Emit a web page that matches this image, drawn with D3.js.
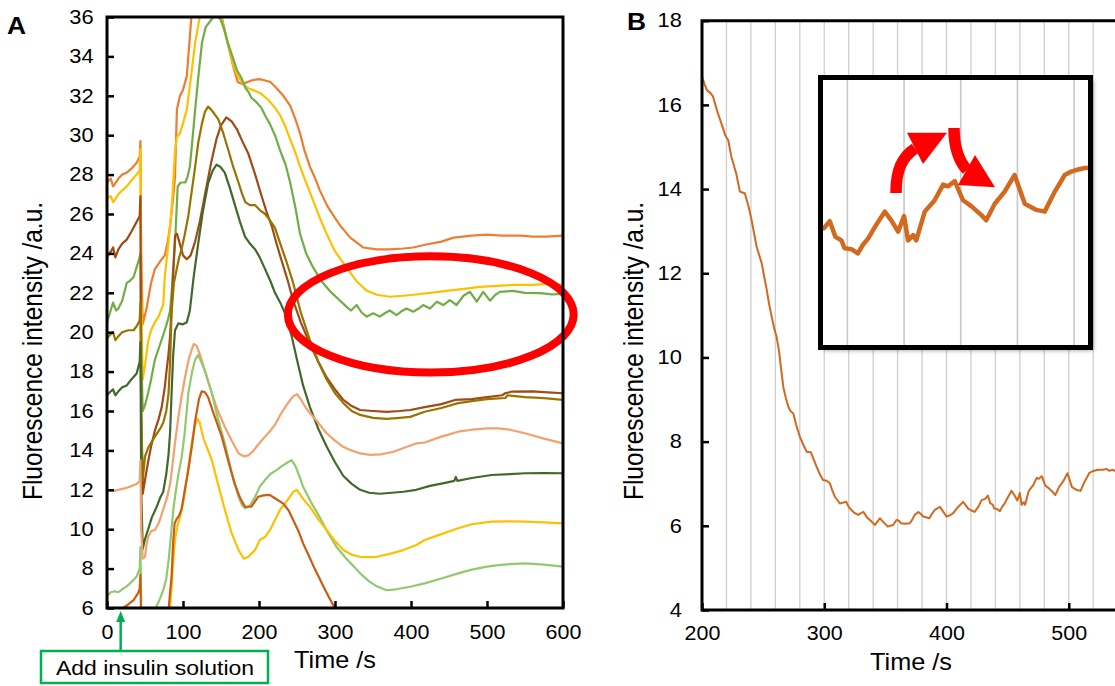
<!DOCTYPE html>
<html>
<head>
<meta charset="UTF-8" />
<script src="https://d3js.org/d3.v7.min.js"></script>
<style>
  body { margin: 0; background: #fff; }
  text { font-family: "Liberation Sans", Arial, sans-serif; fill: #000; }
</style>
</head>
<body>
<svg width="1115" height="686"></svg>
<script>
// ---- panel A data: [time (s), fluorescence (a.u.)] ----
var orangeA = [[0,27.6],[5,27.8],[8,27.4],[10,27.5],[15,27.8],[20,28.0],[26,28.1],[32,28.3],[39,28.6],[43,28.9],[44,29.7],[45,24.0],[47,20.4],[52,21.2],[58,22.5],[63,23.2],[70,23.6],[76,23.9],[80,24.6],[83,25.4],[87,26.8],[89.5,27.9],[91,30.0],[92,31.3],[96,32.0],[100,32.3],[105,33.0],[108,34.5],[111,36.0],[115,37.5],[125,39],[135,39],[145,37.5],[151,36.0],[158,34.8],[166,33.5],[172,32.7],[178,32.6],[185,32.7],[192,32.8],[200,32.85],[206,32.8],[215,32.7],[223,32.4],[232,32.0],[241,31.5],[248,30.8],[254,30.1],[260,29.2],[267,28.4],[274,27.8],[280,27.2],[290,26.4],[300,25.8],[307,25.4],[320,24.8],[337,24.3],[355,24.2],[372,24.2],[390,24.25],[403,24.3],[420,24.45],[440,24.6],[456,24.8],[480,24.9],[500,24.95],[520,24.9],[544,24.9],[560,24.85],[578,24.85],[600,24.9]];
var yellowA = [[0,26.8],[5,26.9],[8,26.6],[10,26.7],[15,27.0],[20,27.2],[26,27.4],[32,27.7],[39,28.0],[43,28.2],[44,29.3],[45,22.0],[47,17.6],[50,18.3],[54,19.5],[58,20.1],[63,20.5],[68,20.8],[74,21.4],[76,22.8],[80,24.2],[85,26.2],[89.5,29.2],[92,29.9],[96,30.1],[100,30.6],[105,31.3],[110,32.8],[116,34.7],[122,36.0],[130,37.2],[140,37.3],[148,36.4],[153,35.5],[160,34.5],[166,33.6],[172,33.0],[177,32.7],[185,32.4],[195,32.25],[203,32.1],[212,31.8],[221,31.4],[228,31.0],[235,30.4],[241,29.8],[248,29.1],[254,28.4],[262,27.6],[271,26.7],[280,25.8],[289,25.0],[300,24.1],[315,23.3],[328,22.6],[342,22.1],[355,21.9],[372,21.8],[390,21.85],[403,21.9],[425,22.0],[447,22.1],[470,22.2],[491,22.3],[513,22.35],[535,22.4],[560,22.4],[580,22.45],[600,22.4]];
var greenA = [[0,20.5],[4,21.0],[8,21.5],[12,21.1],[15,21.2],[20,21.6],[26,22.5],[30,22.6],[35,22.8],[39,23.3],[43,23.8],[44,24.0],[45,19.0],[47,16.0],[50,16.3],[54,16.9],[58,17.6],[63,18.6],[70,19.4],[76,20.1],[80,20.6],[83,21.1],[85,22.0],[87,23.2],[89.5,24.5],[93,27.4],[97,27.6],[103,27.6],[106,27.9],[109,28.4],[112,29.6],[116,31.3],[120,32.9],[125,34.7],[130,35.5],[138,35.9],[143,36.1],[149,35.9],[154,35.4],[159,34.7],[165,34.0],[171,33.3],[177,32.9],[182,32.4],[186,32.2],[190,31.9],[196,31.7],[203,31.4],[208,31.0],[214,30.6],[221,30.0],[228,29.2],[235,28.5],[241,27.6],[248,26.3],[254,25.0],[262,24.0],[271,23.3],[282,22.6],[293,22.1],[304,21.7],[315,21.3],[321,21.1],[328.5,21.38],[335,21.0],[341.7,20.79],[350.4,20.96],[359,20.79],[365,20.95],[372,21.1],[381,20.87],[387,21.05],[394,21.2],[403,21.04],[410,21.2],[416,21.38],[425,21.2],[434,21.55],[442.5,21.38],[451,21.63],[460,21.38],[469,21.85],[477.6,22.05],[486.5,21.55],[495,22.05],[504,21.6],[511,21.9],[517,22.05],[534,22.1],[550,22.0],[570,21.98],[585,21.92],[600,21.94]];
var brownA = [[0,23.8],[5,24.1],[8,24.3],[11,23.8],[15,24.2],[20,24.5],[26,24.7],[32,25.1],[39,25.6],[43,25.9],[44,26.9],[45,16.0],[47,11.8],[50,12.5],[54,13.4],[58,14.2],[63,15.0],[68,15.6],[72,16.2],[76,17.2],[78.5,18.1],[81,18.9],[83,19.8],[86,22.0],[89.5,24.9],[92,25.0],[95,24.6],[100,23.9],[105,23.7],[110,23.9],[116,24.6],[122,25.6],[129,27.0],[137,28.6],[144,29.8],[150,30.5],[157,30.9],[164,30.7],[171,30.3],[178,29.7],[185.6,29.1],[195,28.0],[203.5,26.9],[210,26.1],[216.7,25.4],[223,24.5],[230,23.6],[238,22.6],[245,21.6],[255,20.5],[267,19.4],[278,18.5],[289,17.7],[300,17.1],[311,16.56],[322,16.25],[333,16.05],[350,16.0],[368,15.96],[385,16.0],[399,16.05],[418,16.2],[440,16.35],[458,16.56],[480,16.6],[500,16.7],[520,16.8],[524,16.9],[532,16.98],[560,17.0],[580,16.95],[600,16.9]];
var oliveA = [[0,19.7],[5,19.9],[8,20.0],[11,19.6],[15,19.8],[20,20.0],[28,20.1],[35,20.1],[39,20.3],[43,20.6],[44,21.5],[45,16.0],[47,12.5],[50,13.7],[55,14.2],[63,14.7],[70,15.1],[74,15.4],[78,16.0],[81,16.9],[83,18.5],[85,21.0],[88,22.5],[91.7,23.2],[95,23.8],[98,24.2],[102,24.9],[107,25.9],[112,27.3],[116,28.4],[120,29.6],[125,30.6],[129,31.2],[133,31.45],[137,31.3],[141,31.1],[146.5,30.8],[153,30.1],[160,29.2],[166,28.4],[173,27.6],[178,27.0],[182,26.6],[188,26.45],[195,26.45],[201,26.2],[208,26.0],[214,25.7],[221,25.3],[228,24.5],[236,23.6],[245,22.5],[255,21.0],[267,19.6],[278,18.5],[289,17.6],[300,16.9],[311,16.4],[322,16.0],[333,15.8],[350,15.65],[368,15.6],[385,15.65],[399,15.7],[418,15.96],[440,16.15],[462,16.4],[480,16.5],[500,16.6],[524,16.66],[527,16.8],[550,16.7],[575,16.65],[600,16.56]];
var darkGreenA = [[0,16.8],[5,17.0],[8,17.1],[11,16.8],[15,17.0],[20,17.2],[26,17.3],[32,17.6],[39,17.9],[43,18.5],[44,19.5],[45,12.0],[47,9.0],[50,9.5],[55,10.1],[59,10.6],[65,11.1],[70,11.6],[74,11.9],[78,12.8],[81,13.8],[83,14.9],[85,16.9],[87,18.8],[89.5,20.1],[94,20.45],[100,20.4],[105,20.5],[109,21.1],[114,22.8],[120,24.5],[126,26.1],[133,27.55],[139,28.2],[144,28.5],[149,28.4],[155,28.1],[161,27.4],[168,26.5],[175,25.6],[181.6,24.85],[188,24.5],[195,24.2],[201,23.8],[208,23.2],[215,22.6],[221,22.0],[228,21.5],[236,20.8],[243,19.8],[250,18.6],[258,17.3],[267,16.2],[278,15.1],[289,14.2],[300,13.4],[311,12.7],[322,12.3],[333,12.0],[345,11.85],[359,11.8],[375,11.85],[390,11.9],[407,12.0],[425,12.2],[445,12.35],[457,12.45],[459,12.65],[461,12.45],[480,12.6],[506,12.75],[530,12.8],[550,12.84],[575,12.85],[600,12.84]];
var salmonA = [[0,12.0],[10,11.95],[20,12.05],[26,12.1],[33,12.2],[39,12.3],[43,12.45],[44,13.5],[45,10.0],[47,8.5],[50,8.6],[52,9.2],[54,9.6],[58,9.9],[63,9.96],[68,10.3],[74,11.0],[79,11.6],[83,12.3],[86,13.2],[89.5,14.4],[94,15.7],[98,16.7],[102.6,17.7],[108,18.7],[114,19.4],[118,19.3],[122,18.9],[130,17.9],[138,16.9],[146,16.0],[155,15.2],[164,14.5],[173,13.85],[180,13.7],[186,13.75],[192,13.95],[199,14.3],[208,14.7],[215,15.0],[221,15.3],[228,15.8],[238,16.4],[245,16.75],[250,16.85],[255,16.6],[261,16.2],[267,15.9],[278,15.4],[289,14.87],[300,14.5],[310,14.2],[320,14.02],[333,13.85],[346,13.77],[360,13.8],[377,13.93],[392,14.15],[407.5,14.36],[418,14.4],[440,14.7],[462,14.95],[480,15.05],[500,15.12],[515,15.12],[530,15.05],[550,14.87],[575,14.6],[600,14.36]];
var lightGreenA = [[0,6.6],[5,6.8],[10,6.85],[15,6.8],[20,6.95],[26,7.1],[33,7.35],[39,7.6],[43,8.0],[44,9.1],[45,6.0],[47,4.5],[60,4.5],[62,5.5],[65,6.07],[70,6.5],[74,6.9],[78,7.5],[81,8.4],[84,9.6],[87,10.9],[90,11.8],[94,12.8],[98,13.6],[102,14.8],[107,16.9],[112,18.0],[116,18.6],[120,18.85],[124,18.5],[130,17.9],[138,16.9],[146,15.6],[155,14.36],[164,12.9],[173,11.65],[178,11.2],[182,11.06],[188,11.2],[195,11.65],[201,12.16],[208,12.5],[215,12.8],[223,13.0],[230,13.2],[238,13.4],[243,13.5],[248,13.2],[253,12.7],[258,12.16],[268,11.4],[280,10.6],[291,9.8],[302,9.1],[315,8.5],[325,8.1],[333,7.76],[345,7.35],[355,7.1],[368,6.9],[380,6.95],[399,7.08],[418,7.25],[440,7.5],[462,7.76],[480,7.95],[500,8.1],[515,8.18],[530,8.23],[550,8.27],[575,8.2],[600,8.1]];
var yellowLowA = [[82,5.5],[84,6.5],[86,7.7],[88,8.8],[90,9.6],[93,10.2],[96,10.6],[100,11.3],[104,12.3],[108,13.4],[112,14.5],[116,15.3],[119,15.6],[122,15.4],[127,14.6],[132,14.1],[138,13.5],[146,12.3],[155,11.0],[164,9.8],[173,8.95],[180,8.5],[186,8.6],[195,8.95],[201,9.45],[208,9.6],[215,10.0],[221,10.47],[228,11.0],[238,11.5],[245,11.9],[250,12.0],[255,11.7],[261,11.4],[267,11.14],[278,10.5],[289,9.96],[300,9.4],[311,8.94],[322,8.7],[333,8.6],[345,8.58],[355,8.6],[372,8.75],[390,8.94],[407,9.2],[418,9.45],[440,9.75],[462,10.05],[480,10.25],[506,10.38],[530,10.4],[550,10.38],[575,10.35],[600,10.3]];
var darkOrangeA = [[15,5.5],[19,5.95],[25,6.1],[30,6.25],[35,6.4],[41,6.75],[43,7.0],[44,7.7],[45,5.0],[47,4.0],[78,4.0],[81,5.9],[83,6.8],[85,7.6],[87,9.3],[89,10.3],[91.5,10.5],[95,10.7],[98,11.0],[102,11.9],[107,13.0],[112,14.3],[116,15.5],[121,16.6],[124.6,17.0],[129,16.95],[133,16.7],[140,15.9],[151,14.7],[160,13.4],[168,12.3],[175,11.6],[181.6,11.14],[190,11.14],[199,11.65],[206,11.72],[214,11.74],[221,11.57],[232,11.3],[239,10.95],[245,10.47],[252,9.9],[258,9.28],[265,8.7],[272,8.1],[279,7.55],[285,7.08],[292,6.55],[300,5.98],[305,5.5]];

var seriesA = [orangeA, yellowA, greenA, brownA, oliveA, darkGreenA, salmonA, lightGreenA, yellowLowA, darkOrangeA];
var colorsA = ["#ED7D31", "#FFC000", "#70AD47", "#A04A15", "#997300", "#43692A", "#F4A16B", "#92C96E", "#FFC000", "#CB5C12"];
var yTicksA = d3.range(6, 37, 2);
var xTicksA = [0, 100, 200, 300, 400, 500, 600];

// ---- panel B data ----
var traceB = [[200,16.67],[202,16.5],[204,16.35],[207,16.28],[209,16.2],[211,16.0],[213,15.8],[216,15.55],[219,15.28],[221.5,15.16],[224,14.77],[228,14.37],[231,13.94],[233,13.92],[235,13.9],[238,13.6],[240.6,13.26],[244.7,12.63],[248.8,12.24],[251,11.9],[253,11.6],[255,11.25],[257,10.97],[259,10.7],[261,10.49],[263,10.15],[264,9.9],[266.5,9.3],[268.5,9.05],[270.6,8.83],[272.5,8.72],[274.7,8.67],[277,8.4],[280,8.12],[282.5,7.95],[285.6,7.76],[289,7.75],[291,7.6],[293.8,7.4],[296,7.25],[299,7.09],[302,7.07],[304.6,7.01],[306.5,6.85],[308.7,6.69],[312.8,6.53],[315,6.55],[318,6.57],[320,6.45],[322.4,6.37],[325,6.3],[327.8,6.26],[330,6.3],[332,6.33],[335,6.2],[338.7,6.1],[341.5,6.02],[343.5,6.1],[345.5,6.18],[348,6.1],[352,5.98],[354,6.0],[356.4,6.02],[359,6.14],[361,6.12],[363,6.06],[366,6.05],[370,6.06],[372,6.15],[374,6.26],[377,6.33],[379,6.28],[381,6.22],[386,6.18],[388,6.28],[390.5,6.38],[394.6,6.45],[397,6.35],[400,6.22],[403,6.25],[405.5,6.3],[407.5,6.38],[409.6,6.45],[413.6,6.57],[415.5,6.5],[417.7,6.41],[420,6.37],[423,6.33],[426,6.45],[428.7,6.61],[431.7,6.64],[433.8,6.72],[435.8,6.54],[437.9,6.50],[439,6.41],[441.4,6.40],[443.7,6.35],[445.5,6.45],[447.3,6.52],[450.2,6.68],[453.2,6.83],[455.5,6.73],[457.9,6.60],[460,6.78],[461.4,6.50],[463.2,6.56],[464.3,6.50],[467.3,6.83],[470.8,6.96],[473.8,7.14],[475.5,7.12],[477.9,7.18],[480.8,6.96],[483.8,6.89],[487.3,6.79],[489,6.73],[492,6.92],[495.5,7.06],[499,7.25],[502.6,6.92],[506.7,6.85],[509.6,6.83],[513.2,7.06],[516.7,7.25],[519,7.29],[521,7.31],[523.8,7.33],[528,7.33],[531,7.35],[533,7.31],[536,7.33],[538,7.3],[541.5,7.29],[545,7.3]];
var yTicksB = d3.range(4, 19, 2);
var xTicksB = [200, 300, 400, 500];
var gridB = d3.range(220, 600, 20);
var insetDomainX = [431.4, 524.9];
var insetDomainY = [5.3, 8.34];
var gridInset = [440, 460, 480, 500, 520];

var svg = d3.select("svg");
var font = '"Liberation Sans", Arial, sans-serif';

var defs = svg.append("defs");
defs.append("clipPath").attr("id", "clipA").append("rect")
  .attr("x", 107).attr("y", 17).attr("width", 456).attr("height", 591);
defs.append("clipPath").attr("id", "clipInset").append("rect")
  .attr("x", 823).attr("y", 80).attr("width", 265).attr("height", 265);
var shadow = defs.append("filter").attr("id", "shadow")
  .attr("x", "-10%").attr("y", "-10%").attr("width", "130%").attr("height", "130%");
shadow.append("feDropShadow").attr("dx", 3).attr("dy", 3).attr("stdDeviation", 2)
  .attr("flood-color", "#000").attr("flood-opacity", 0.35);

function styleAxis(g, fs, sx) {
  g.select(".domain").remove();
  g.selectAll(".tick line").attr("stroke", "#000").attr("stroke-width", 2.5);
  g.selectAll(".tick text").attr("font-size", fs).attr("font-family", font)
    .attr("transform", "scale(" + sx + ",1)");
}

// ================= panel A =================
var xA = d3.scaleLinear().domain([0, 600]).range([107, 563]);
var yA = d3.scaleLinear().domain([6, 36]).range([608, 17]);

var lineA = d3.line().x(function (d) { return xA(d[0]); }).y(function (d) { return yA(d[1]); });

var gA = svg.append("g").attr("clip-path", "url(#clipA)");
gA.selectAll("path")
  .data(seriesA)
  .enter()
  .append("path")
  .attr("d", lineA)
  .attr("fill", "none")
  .attr("stroke", function (d, i) { return colorsA[i]; })
  .attr("stroke-width", 2.2)
  .attr("stroke-linejoin", "round");

// red ellipse
svg.append("ellipse")
  .attr("cx", xA(426)).attr("cy", yA(20.9))
  .attr("rx", xA(426 + 188) - xA(426)).attr("ry", yA(20.9) - yA(20.9 + 2.95))
  .attr("fill", "none").attr("stroke", "#FF0000").attr("stroke-width", 8);

// axes A
svg.append("g").attr("transform", "translate(107,0)")
  .call(d3.axisLeft(yA).tickValues(yTicksA).tickSize(-7).tickPadding(12))
  .call(styleAxis, 19.5, 1.12);
svg.append("g").attr("transform", "translate(0,608)")
  .call(d3.axisBottom(xA).tickValues(xTicksA).tickSize(-7).tickPadding(17))
  .call(styleAxis, 19.5, 1.1);

// frame A
svg.append("path")
  .attr("d", "M107,17V608H563V17Z")
  .attr("fill", "none").attr("stroke", "#000").attr("stroke-width", 3);

svg.append("text").attr("transform", "translate(7,34) scale(1.1,1)")
  .attr("font-size", 24).attr("font-weight", "bold").text("A");

svg.append("text").attr("transform", "translate(335,668) scale(1.1,1)")
  .attr("text-anchor", "middle").attr("font-size", 23).text("Time /s");
svg.append("text").attr("transform", "translate(42,351) scale(1.1,1) rotate(-90)")
  .attr("text-anchor", "middle").attr("font-size", 24.5).text("Fluorescence intensity /a.u.");

// insulin annotation
var green = "#00B050";
var tAdd = 18;
svg.append("line")
  .attr("x1", xA(tAdd)).attr("x2", xA(tAdd)).attr("y1", 650).attr("y2", 620)
  .attr("stroke", green).attr("stroke-width", 2.5);
svg.append("path")
  .attr("d", "M" + (xA(tAdd) - 4.5) + ",622L" + xA(tAdd) + ",611L" + (xA(tAdd) + 4.5) + ",622Z")
  .attr("fill", green);
svg.append("rect").attr("x", 41).attr("y", 651).attr("width", 227).attr("height", 32)
  .attr("fill", "#fff").attr("stroke", green).attr("stroke-width", 2.5);
svg.append("text").attr("transform", "translate(155,675) scale(1.15,1)")
  .attr("text-anchor", "middle").attr("font-size", 20).text("Add insulin solution");

// ================= panel B =================
var xB = d3.scaleLinear().domain([200, 600]).range([702, 1191]);
var yB = d3.scaleLinear().domain([4, 18]).range([610, 20.7]);
var lineB = d3.line().x(function (d) { return xB(d[0]); }).y(function (d) { return yB(d[1]); });

svg.append("g").selectAll("line")
  .data(gridB).enter().append("line")
  .attr("x1", function (d) { return xB(d); }).attr("x2", function (d) { return xB(d); })
  .attr("y1", yB(18)).attr("y2", yB(4))
  .attr("stroke", "#CFCFCF").attr("stroke-width", 1.3);

svg.append("path").datum(traceB)
  .attr("d", lineB).attr("fill", "none")
  .attr("stroke", "#D2691E").attr("stroke-width", 2)
  .attr("stroke-linejoin", "round");

svg.append("g").attr("transform", "translate(702,0)")
  .call(d3.axisLeft(yB).tickValues(yTicksB).tickSize(-7).tickPadding(18))
  .call(styleAxis, 19.5, 1.12);
svg.append("g").attr("transform", "translate(0,610)")
  .call(d3.axisBottom(xB).tickValues(xTicksB).tickSize(-7).tickPadding(16))
  .call(styleAxis, 19.5, 1.1);

svg.append("path")
  .attr("d", "M" + xB(600) + "," + yB(18) + "H702V" + yB(4) + "H" + xB(600))
  .attr("fill", "none").attr("stroke", "#000").attr("stroke-width", 3);

svg.append("text").attr("transform", "translate(627,30) scale(1.1,1)")
  .attr("font-size", 24).attr("font-weight", "bold").text("B");
svg.append("text").attr("transform", "translate(911,670) scale(1.1,1)")
  .attr("text-anchor", "middle").attr("font-size", 23).text("Time /s");
svg.append("text").attr("transform", "translate(643,351) scale(1.1,1) rotate(-90)")
  .attr("text-anchor", "middle").attr("font-size", 24.5).text("Fluorescence intensity /a.u.");

// ---- inset (zoom on 430-525 s) ----
var xI = d3.scaleLinear().domain(insetDomainX).range([823, 1088]);
var yI = d3.scaleLinear().domain(insetDomainY).range([345, 80]);
var lineI = d3.line().x(function (d) { return xI(d[0]); }).y(function (d) { return yI(d[1]); });

svg.append("rect").attr("x", 820.5).attr("y", 77.5).attr("width", 270).attr("height", 270)
  .attr("fill", "#fff").attr("filter", "url(#shadow)");
var gI = svg.append("g").attr("clip-path", "url(#clipInset)");
gI.selectAll("line").data(gridInset).enter().append("line")
  .attr("x1", function (d) { return xI(d); }).attr("x2", function (d) { return xI(d); })
  .attr("y1", 80).attr("y2", 345)
  .attr("stroke", "#C8C8C8").attr("stroke-width", 1.6);
gI.append("path").datum(traceB)
  .attr("d", lineI).attr("fill", "none")
  .attr("stroke", "#D2691E").attr("stroke-width", 4.5)
  .attr("stroke-linejoin", "round");
svg.append("rect").attr("x", 820.5).attr("y", 77.5).attr("width", 270).attr("height", 270)
  .attr("fill", "none").attr("stroke", "#000").attr("stroke-width", 5);

// red curved arrows inside the inset (offsets from inset corner)
var ox = 818, oy = 75;
var arrows = svg.append("g").attr("transform", "translate(" + ox + "," + oy + ")");
arrows.append("path").attr("d", "M78,118C78,95 84,82 97,73.5")
  .attr("fill", "none").attr("stroke", "#FF0000").attr("stroke-width", 11.5);
arrows.append("path").attr("d", "M89,57.7L129,57.7L105,89Z").attr("fill", "#FF0000");
arrows.append("path").attr("d", "M136,53C136,72 140,85 149,95")
  .attr("fill", "none").attr("stroke", "#FF0000").attr("stroke-width", 11.5);
arrows.append("path").attr("d", "M140,110L177,112.3L157,80Z").attr("fill", "#FF0000");
</script>
</body>
</html>
